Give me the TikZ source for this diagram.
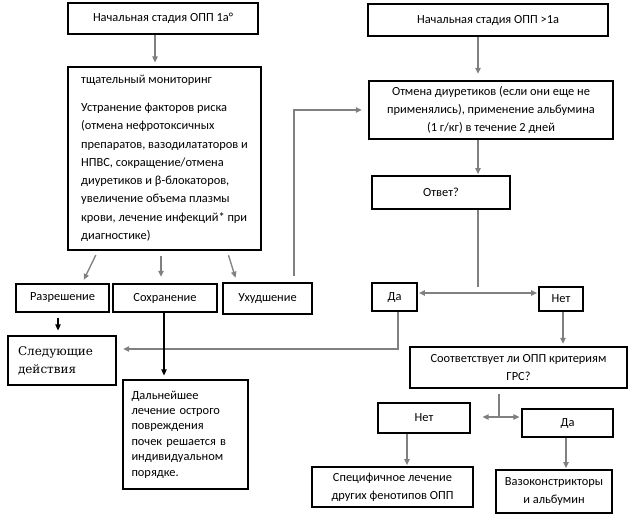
\documentclass[tikz,border=0pt]{standalone}
\usepackage{fontspec}
\setmainfont{Carlito}
\newfontfamily\serifcyr{DejaVu Serif}
\usetikzlibrary{arrows.meta}
\definecolor{lgrey}{HTML}{808080}
\tikzset{
  box/.style={draw=black, line width=0.8pt, inner sep=0pt, align=center, font=\fontsize{9.3}{13.7}\selectfont},
  garrow/.style={draw=lgrey, line width=1pt, -{Triangle[length=4.5pt,width=4pt]}},
  gline/.style={draw=lgrey, line width=1pt},
  garrows/.style={draw=lgrey, line width=1pt, {Triangle[length=4.5pt,width=4pt]}-{Triangle[length=4.5pt,width=4pt]}},
  barrow/.style={draw=black, line width=0.8pt, -{Triangle[length=4.5pt,width=4pt]}},
}
\begin{document}
\begin{tikzpicture}[x=0.75pt,y=-0.75pt]
\useasboundingbox (0,0) rectangle (636,522);
% boxes (centres in px, sizes in pt = px*0.75)
\node[box, minimum width=142.5pt, minimum height=23.25pt] (b1) at (163,18.5) {Начальная стадия ОПП 1а°};
\node[box, minimum width=144.75pt, minimum height=137.25pt, align=left] (mon) at (164.5,158.5)
  {тщательный мониторинг\\[7pt]
   Устранение факторов риска\\
   (отмена нефротоксичных\\
   препаратов, вазодилататоров и\\
   НПВС, сокращение/отмена\\
   диуретиков и β-блокаторов,\\
   увеличение объема плазмы\\
   крови, лечение инфекций* при\\
   диагностике)};
\node[box, minimum width=180pt, minimum height=24pt] (b3) at (488,20) {Начальная стадия ОПП >1а};
\node[box, minimum width=183pt, minimum height=43.5pt] (b4) at (491,110)
  {Отмена диуретиков (если они еще не\\применялись), применение альбумина\\(1 г/кг) в течение 2 дней};
\node[box, minimum width=103.5pt, minimum height=24.75pt] (otv) at (441,192.5) {Ответ?};
\node[box, minimum width=33.75pt, minimum height=21pt] (da1) at (394.5,297) {Да};
\node[box, minimum width=33pt, minimum height=18pt] (net1) at (561,299) {Нет};
\node[box, minimum width=162.75pt, minimum height=30.75pt] (grs) at (518.5,367.5) {Соответствует ли ОПП критериям\\ГРС?};
\node[box, minimum width=69pt, minimum height=22.5pt] (net2) at (424,418) {Нет};
\node[box, minimum width=68.25pt, minimum height=21pt] (da2) at (567.5,423) {Да};
\node[box, minimum width=120.75pt, minimum height=30pt] (spec) at (392.5,487) {Специфичное лечение\\других фенотипов ОПП};
\node[box, minimum width=87pt, minimum height=32.25pt] (vaso) at (554,491.5) {Вазоконстрикторы\\и альбумин};
\node[box, minimum width=69.75pt, minimum height=21pt] (razr) at (62.5,298) {Разрешение};
\node[box, minimum width=78pt, minimum height=21pt] (sohr) at (165,298) {Сохранение};
\node[box, minimum width=66.75pt, minimum height=23.25pt] (uhud) at (267.5,298.5) {Ухудшение};
\node[box, minimum width=81pt, minimum height=36.75pt, align=left, text width=66pt,
      font=\serifcyr\fontsize{9}{13.5}\selectfont] (sled) at (62,360.5) {Следующие\\действия};
\node[box, minimum width=93.75pt, minimum height=81.75pt, align=left, text width=81pt,
      font=\fontsize{9.3}{11.6}\selectfont] (dal) at (185.5,434.5)
  {Дальнейшее\\лечение острого\\повреждения\\почек решается в\\индивидуальном\\порядке.};
% connectors
\draw[garrow, shorten >=3pt] (155,0 |- b1.south) -- (155,0 |- mon.north);
\draw[garrow, shorten >=3pt, shorten <=3.75pt] (98,0 |- mon.south) -- (82,0 |- razr.north);
\draw[garrow, shorten >=5pt, shorten <=3.75pt] (161,0 |- mon.south) -- (161,0 |- sohr.north);
\draw[garrow, shorten >=3.75pt, shorten <=3.75pt] (227,0 |- mon.south) -- (237,0 |- uhud.north);
\draw[garrow, shorten >=5pt, shorten <=5pt] (294,0 |- uhud.north) |- (b4.west);
\draw[garrow, shorten >=5pt] (478,0 |- b3.south) -- (478,0 |- b4.north);
\draw[garrow, shorten >=1pt] (478,0 |- b4.south) -- (478,0 |- otv.north);
\coordinate (j1) at (478,287);
\draw[gline] (478,0 |- otv.south) -- (j1);
\draw[garrows, shorten <=1pt, shorten >=1pt] (da1.east |- 0,293) -- (net1.west |- 0,293);
\draw[garrow, shorten >=5pt] (398,0 |- da1.south) |- (sled.east |- 0,349);
\draw[garrow, shorten >=2pt] (563,0 |- net1.south) -- (563,0 |- grs.north);
\coordinate (j2) at (499,417);
\draw[gline, shorten <=4pt] (499,0 |- grs.south) -- (j2);
\draw[garrows, shorten <=9pt, shorten >=1.5pt] (net2.east |- j2) -- (da2.west |- j2);
\draw[garrow, shorten >=1pt] (407,0 |- net2.south) -- (407,0 |- spec.north);
\draw[garrow, shorten >=1pt] (566,0 |- da2.south) -- (566,0 |- vaso.north);
\draw[barrow, shorten >=3.75pt, shorten <=3.75pt] (58,0 |- razr.south) -- (58,0 |- sled.north);
\draw[barrow, shorten >=3pt] (164,0 |- sohr.south) -- (164,0 |- dal.north);
\end{tikzpicture}
\end{document}
